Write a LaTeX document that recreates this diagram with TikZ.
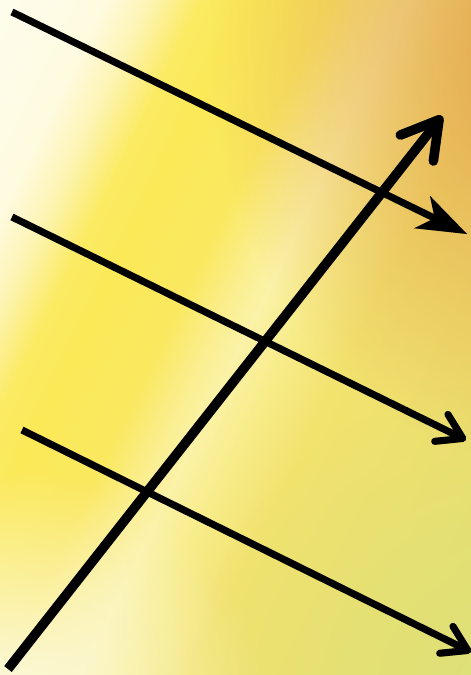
\documentclass[tikz,border=0pt]{standalone}
\usetikzlibrary{arrows.meta,fadings}
\definecolor{orangeC}{HTML}{E3A44E}
\definecolor{greenC}{HTML}{DCE27A}
\definecolor{creamC}{HTML}{FCF9DE}
\definecolor{s0}{HTML}{FEFDEC}
\definecolor{s1}{HTML}{FEFBE0}
\definecolor{s2}{HTML}{FDF4B4}
\definecolor{s3}{HTML}{FBEB64}
\definecolor{s4}{HTML}{FBE958}
\definecolor{s5}{HTML}{FAE860}
\definecolor{s6}{HTML}{FAEE8C}
\definecolor{s7}{HTML}{FBF2A8}
\definecolor{s8}{HTML}{F7EC8A}
\definecolor{s9}{HTML}{F2E26E}
\definecolor{s10}{HTML}{E8DC6E}
\tikzfading[name=glow, inner color=transparent!0, outer color=transparent!100]
\tikzset{
  flow/.style={line width=7pt, -{Stealth[length=50pt,width=36pt,inset=14pt,line width=0pt]}},
  barb/.style={line width=7pt, -{Straight Barb[length=24pt,width=30pt,round]}},
  rise/.style={line width=9.5pt, -{Straight Barb[length=36pt,width=42pt,round]}},
}
\begin{document}
\begin{tikzpicture}[x=1pt,y=-1pt]
  \useasboundingbox (0,0) rectangle (471,675);
  \clip (0,0) rectangle (471,675);
  % background: banded gradient across the diagonal
  \begin{scope}[rotate=-26]
    \foreach \da/\ca/\db/\cb in {-60/s0/0/s0, 0/s0/95/s1, 95/s1/135/s2, 135/s2/180/s3,
        180/s3/220/s4, 220/s4/295/s5, 295/s5/335/s6, 335/s6/368/s7,
        368/s7/410/s8, 410/s8/470/s9, 470/s9/760/s10}{
      \foreach \t in {0,2,...,98}{
        \pgfmathsetmacro\px{\da+(\db-\da)*(\t/100)}
        \pgfmathsetmacro\pw{(\db-\da)*0.02+0.8}
        \fill[\cb!\t!\ca] (\px,-700) rectangle ++(\pw,1500);
      }
    }
  \end{scope}
  \fill[orangeC, path fading=glow] (540,40) ellipse [x radius=330, y radius=420];
  \fill[greenC, path fading=glow] (520,700) ellipse [x radius=330, y radius=320];
  \fill[creamC, path fading=glow] (0,690) ellipse [x radius=260, y radius=220];
  % named end points
  \coordinate (a1s) at (12,12);   \coordinate (a1e) at (467,234);
  \coordinate (a2s) at (12,217);  \coordinate (a2e) at (466,440);
  \coordinate (a3s) at (22,430);  \coordinate (a3e) at (471,652);
  \coordinate (ds)  at (8,669);   \coordinate (de)  at (442,116);
  % shadows
  \begin{scope}[transparency group, opacity=0.28, shift={(2,3)}]
    \draw[flow] (a1s) -- (a1e);
    \draw[barb] (a2s) -- (a2e);
    \draw[barb] (a3s) -- (a3e);
    \draw[rise] (ds) -- (de);
  \end{scope}
  % arrows
  \draw[flow] (a1s) -- (a1e);
  \draw[barb] (a2s) -- (a2e);
  \draw[barb] (a3s) -- (a3e);
  \draw[rise] (ds) -- (de);
\end{tikzpicture}
\end{document}
